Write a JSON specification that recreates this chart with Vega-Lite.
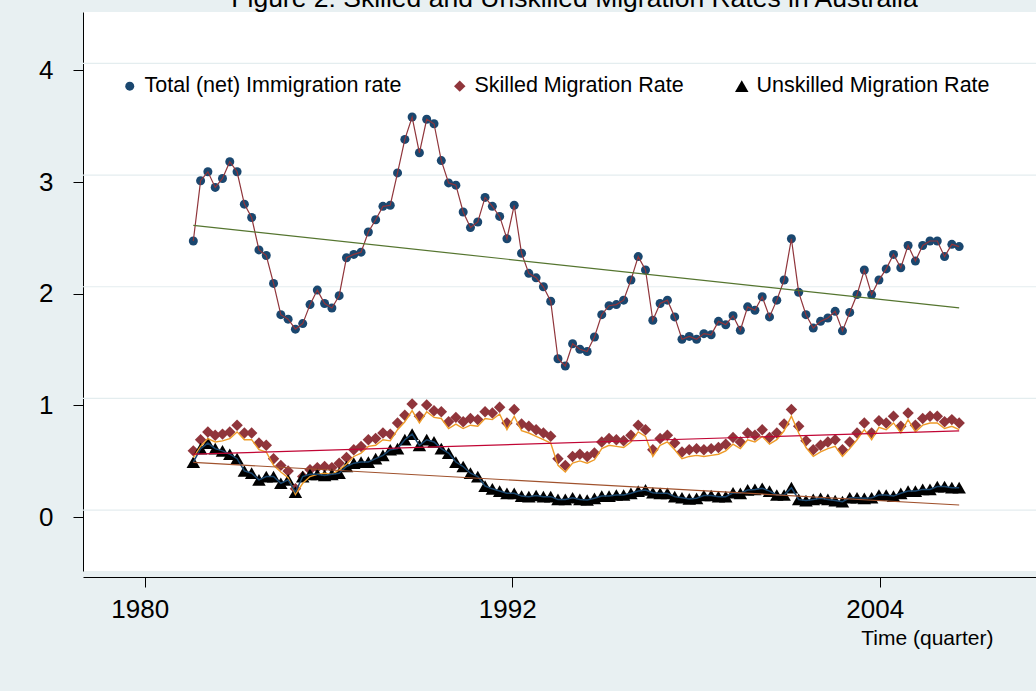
{
  "$schema": "https://vega.github.io/schema/vega-lite/v6.json",
  "autosize": "none",
  "width": 953,
  "height": 559,
  "padding": {"left": 83, "top": 12, "right": 0, "bottom": 120},
  "background": "#e8f0f2",
  "config": {
    "font": "Liberation Sans",
    "view": {"fill": "white", "stroke": null}
  },
  "title": {
    "text": "Figure 2: Skilled and Unskilled Migration Rates in Australia",
    "fontSize": 26.5,
    "font": "Liberation Sans",
    "fontWeight": "normal",
    "color": "black",
    "anchor": "middle",
    "dx": 15,
    "offset": 0
  },
  "datasets": {
    "main": [
      {"t":1981.587,"tot":2.41,"sk":0.53,"skf":0.47,"un":0.43},
      {"t":1981.825,"tot":2.95,"sk":0.63,"skf":0.57,"un":0.55},
      {"t":1982.063,"tot":3.03,"sk":0.70,"skf":0.64,"un":0.60},
      {"t":1982.302,"tot":2.89,"sk":0.67,"skf":0.61,"un":0.55},
      {"t":1982.540,"tot":2.97,"sk":0.68,"skf":0.62,"un":0.53},
      {"t":1982.778,"tot":3.12,"sk":0.70,"skf":0.64,"un":0.50},
      {"t":1983.016,"tot":3.03,"sk":0.76,"skf":0.70,"un":0.46},
      {"t":1983.254,"tot":2.74,"sk":0.69,"skf":0.63,"un":0.35},
      {"t":1983.492,"tot":2.62,"sk":0.69,"skf":0.63,"un":0.33},
      {"t":1983.731,"tot":2.33,"sk":0.60,"skf":0.54,"un":0.27},
      {"t":1983.969,"tot":2.28,"sk":0.58,"skf":0.52,"un":0.30},
      {"t":1984.207,"tot":2.03,"sk":0.46,"skf":0.40,"un":0.30},
      {"t":1984.445,"tot":1.75,"sk":0.40,"skf":0.34,"un":0.24},
      {"t":1984.683,"tot":1.71,"sk":0.35,"skf":0.29,"un":0.27},
      {"t":1984.921,"tot":1.62,"sk":0.19,"skf":0.14,"un":0.16},
      {"t":1985.160,"tot":1.67,"sk":0.30,"skf":0.24,"un":0.30},
      {"t":1985.398,"tot":1.84,"sk":0.36,"skf":0.30,"un":0.32},
      {"t":1985.636,"tot":1.97,"sk":0.38,"skf":0.32,"un":0.32},
      {"t":1985.874,"tot":1.85,"sk":0.39,"skf":0.33,"un":0.31},
      {"t":1986.112,"tot":1.81,"sk":0.38,"skf":0.32,"un":0.32},
      {"t":1986.350,"tot":1.92,"sk":0.42,"skf":0.36,"un":0.33},
      {"t":1986.589,"tot":2.26,"sk":0.47,"skf":0.41,"un":0.39},
      {"t":1986.827,"tot":2.29,"sk":0.54,"skf":0.48,"un":0.42},
      {"t":1987.065,"tot":2.31,"sk":0.57,"skf":0.51,"un":0.43},
      {"t":1987.303,"tot":2.49,"sk":0.63,"skf":0.57,"un":0.43},
      {"t":1987.541,"tot":2.60,"sk":0.64,"skf":0.58,"un":0.46},
      {"t":1987.779,"tot":2.72,"sk":0.69,"skf":0.63,"un":0.49},
      {"t":1988.018,"tot":2.73,"sk":0.68,"skf":0.62,"un":0.54},
      {"t":1988.256,"tot":3.02,"sk":0.78,"skf":0.72,"un":0.55},
      {"t":1988.494,"tot":3.32,"sk":0.85,"skf":0.79,"un":0.63},
      {"t":1988.732,"tot":3.52,"sk":0.95,"skf":0.89,"un":0.68},
      {"t":1988.970,"tot":3.20,"sk":0.84,"skf":0.78,"un":0.58},
      {"t":1989.208,"tot":3.50,"sk":0.94,"skf":0.88,"un":0.63},
      {"t":1989.447,"tot":3.46,"sk":0.89,"skf":0.83,"un":0.61},
      {"t":1989.685,"tot":3.13,"sk":0.88,"skf":0.82,"un":0.55},
      {"t":1989.923,"tot":2.93,"sk":0.79,"skf":0.73,"un":0.51},
      {"t":1990.161,"tot":2.91,"sk":0.83,"skf":0.77,"un":0.43},
      {"t":1990.399,"tot":2.67,"sk":0.79,"skf":0.73,"un":0.39},
      {"t":1990.637,"tot":2.53,"sk":0.82,"skf":0.76,"un":0.33},
      {"t":1990.876,"tot":2.58,"sk":0.81,"skf":0.75,"un":0.30},
      {"t":1991.114,"tot":2.80,"sk":0.88,"skf":0.82,"un":0.215},
      {"t":1991.352,"tot":2.72,"sk":0.87,"skf":0.81,"un":0.19},
      {"t":1991.590,"tot":2.63,"sk":0.92,"skf":0.86,"un":0.17},
      {"t":1991.828,"tot":2.43,"sk":0.78,"skf":0.72,"un":0.15},
      {"t":1992.066,"tot":2.73,"sk":0.90,"skf":0.84,"un":0.15},
      {"t":1992.305,"tot":2.30,"sk":0.77,"skf":0.71,"un":0.125},
      {"t":1992.543,"tot":2.12,"sk":0.75,"skf":0.69,"un":0.12},
      {"t":1992.781,"tot":2.08,"sk":0.72,"skf":0.66,"un":0.13},
      {"t":1993.019,"tot":2.00,"sk":0.69,"skf":0.63,"un":0.12},
      {"t":1993.257,"tot":1.87,"sk":0.66,"skf":0.60,"un":0.12},
      {"t":1993.495,"tot":1.355,"sk":0.46,"skf":0.40,"un":0.095},
      {"t":1993.734,"tot":1.29,"sk":0.40,"skf":0.34,"un":0.095},
      {"t":1993.972,"tot":1.49,"sk":0.48,"skf":0.42,"un":0.11},
      {"t":1994.210,"tot":1.44,"sk":0.50,"skf":0.44,"un":0.095},
      {"t":1994.448,"tot":1.42,"sk":0.48,"skf":0.42,"un":0.09},
      {"t":1994.686,"tot":1.55,"sk":0.51,"skf":0.45,"un":0.105},
      {"t":1994.924,"tot":1.75,"sk":0.61,"skf":0.55,"un":0.125},
      {"t":1995.163,"tot":1.83,"sk":0.64,"skf":0.58,"un":0.125},
      {"t":1995.401,"tot":1.84,"sk":0.63,"skf":0.57,"un":0.135},
      {"t":1995.639,"tot":1.88,"sk":0.62,"skf":0.56,"un":0.135},
      {"t":1995.877,"tot":2.06,"sk":0.67,"skf":0.61,"un":0.15},
      {"t":1996.115,"tot":2.27,"sk":0.76,"skf":0.70,"un":0.17},
      {"t":1996.353,"tot":2.15,"sk":0.72,"skf":0.66,"un":0.18},
      {"t":1996.592,"tot":1.70,"sk":0.54,"skf":0.48,"un":0.155},
      {"t":1996.830,"tot":1.85,"sk":0.64,"skf":0.58,"un":0.15},
      {"t":1997.068,"tot":1.88,"sk":0.67,"skf":0.61,"un":0.15},
      {"t":1997.306,"tot":1.73,"sk":0.60,"skf":0.54,"un":0.12},
      {"t":1997.544,"tot":1.53,"sk":0.52,"skf":0.46,"un":0.11},
      {"t":1997.782,"tot":1.555,"sk":0.54,"skf":0.48,"un":0.10},
      {"t":1998.021,"tot":1.53,"sk":0.55,"skf":0.49,"un":0.105},
      {"t":1998.259,"tot":1.58,"sk":0.54,"skf":0.48,"un":0.13},
      {"t":1998.497,"tot":1.57,"sk":0.55,"skf":0.49,"un":0.13},
      {"t":1998.735,"tot":1.69,"sk":0.56,"skf":0.50,"un":0.12},
      {"t":1998.973,"tot":1.66,"sk":0.59,"skf":0.53,"un":0.12},
      {"t":1999.211,"tot":1.74,"sk":0.65,"skf":0.59,"un":0.155},
      {"t":1999.450,"tot":1.61,"sk":0.61,"skf":0.55,"un":0.15},
      {"t":1999.688,"tot":1.82,"sk":0.69,"skf":0.63,"un":0.18},
      {"t":1999.926,"tot":1.79,"sk":0.67,"skf":0.61,"un":0.185},
      {"t":2000.164,"tot":1.91,"sk":0.72,"skf":0.66,"un":0.195},
      {"t":2000.402,"tot":1.73,"sk":0.65,"skf":0.59,"un":0.17},
      {"t":2000.640,"tot":1.88,"sk":0.69,"skf":0.63,"un":0.135},
      {"t":2000.879,"tot":2.06,"sk":0.77,"skf":0.71,"un":0.135},
      {"t":2001.117,"tot":2.43,"sk":0.90,"skf":0.84,"un":0.20},
      {"t":2001.355,"tot":1.95,"sk":0.75,"skf":0.69,"un":0.095},
      {"t":2001.593,"tot":1.75,"sk":0.62,"skf":0.56,"un":0.085},
      {"t":2001.831,"tot":1.63,"sk":0.54,"skf":0.48,"un":0.095},
      {"t":2002.069,"tot":1.69,"sk":0.58,"skf":0.52,"un":0.105},
      {"t":2002.308,"tot":1.72,"sk":0.61,"skf":0.55,"un":0.095},
      {"t":2002.546,"tot":1.78,"sk":0.63,"skf":0.57,"un":0.085},
      {"t":2002.784,"tot":1.605,"sk":0.54,"skf":0.48,"un":0.075},
      {"t":2003.022,"tot":1.77,"sk":0.61,"skf":0.55,"un":0.11},
      {"t":2003.260,"tot":1.93,"sk":0.69,"skf":0.63,"un":0.11},
      {"t":2003.498,"tot":2.15,"sk":0.78,"skf":0.72,"un":0.105},
      {"t":2003.737,"tot":1.93,"sk":0.69,"skf":0.63,"un":0.11},
      {"t":2003.975,"tot":2.06,"sk":0.80,"skf":0.74,"un":0.135},
      {"t":2004.213,"tot":2.16,"sk":0.78,"skf":0.72,"un":0.135},
      {"t":2004.451,"tot":2.29,"sk":0.84,"skf":0.78,"un":0.125},
      {"t":2004.689,"tot":2.17,"sk":0.75,"skf":0.69,"un":0.15},
      {"t":2004.927,"tot":2.37,"sk":0.87,"skf":0.81,"un":0.17},
      {"t":2005.166,"tot":2.23,"sk":0.76,"skf":0.70,"un":0.17},
      {"t":2005.404,"tot":2.37,"sk":0.82,"skf":0.76,"un":0.185},
      {"t":2005.642,"tot":2.41,"sk":0.84,"skf":0.78,"un":0.185},
      {"t":2005.880,"tot":2.41,"sk":0.84,"skf":0.78,"un":0.21},
      {"t":2006.118,"tot":2.27,"sk":0.79,"skf":0.73,"un":0.21},
      {"t":2006.356,"tot":2.38,"sk":0.81,"skf":0.75,"un":0.20},
      {"t":2006.595,"tot":2.36,"sk":0.78,"skf":0.72,"un":0.20}
    ],
    "trend": [
      {"t":1981.587,"gtr":2.55,"str":0.50,"utr":0.427},
      {"t":2006.595,"gtr":1.81,"str":0.71,"utr":0.045}
    ],
    "grid": [{"g":0},{"g":1},{"g":2},{"g":3},{"g":4}]
  },
  "encoding": {
    "x": {
      "field": "t", "type": "quantitative",
      "scale": {"domain": [1977.985, 2009.104], "nice": false, "zero": false},
      "axis": {
        "values": [1980, 1992, 2004],
        "format": "d",
        "grid": false,
        "offset": 6,
        "tickSize": 10,
        "tickColor": "black",
        "domainColor": "black",
        "labelColor": "black",
        "labelFontSize": 26,
        "labelFont": "Liberation Sans",
        "labelOffset": -5,
        "labelPadding": 9,
        "title": "Time (quarter)",
        "titleFont": "Liberation Sans",
        "titleFontSize": 21,
        "titleFontWeight": "normal",
        "titleColor": "black",
        "titleX": 910,
        "titleY": 61,
        "titleAlign": "right",
        "titleBaseline": "middle"
      }
    }
  },
  "layer": [
    {
      "data": {"name": "grid"},
      "mark": {"type": "rule", "color": "#e4edef", "strokeWidth": 1.2},
      "encoding": {
        "x": null,
        "y": {
          "field": "g", "type": "quantitative",
          "scale": {"domain": [-0.546, 4.461], "nice": false, "zero": false},
          "axis": {
            "values": [0, 1, 2, 3, 4],
            "format": "d",
            "grid": false,
            "tickOffset": 7,
            "tickSize": 10,
            "tickColor": "black",
            "domainColor": "black",
            "labelColor": "black",
            "labelFontSize": 26,
            "labelFont": "Liberation Sans",
            "labelPadding": 20,
            "title": null
          }
        }
      }
    },
    {
      "data": {"name": "main"},
      "transform": [{"fold": ["tot", "sk", "un"], "as": ["series", "value"]}],
      "mark": {"type": "point", "filled": true, "opacity": 1, "strokeWidth": 0},
      "encoding": {
        "y": {"field": "value", "type": "quantitative"},
        "color": {
          "field": "series", "type": "nominal",
          "scale": {"domain": ["tot", "sk", "un"], "range": ["#1a476f", "#90353b", "#000000"]},
          "legend": {
            "orient": "none",
            "legendX": 36,
            "legendY": 63,
            "direction": "horizontal",
            "columns": 3,
            "columnPadding": 47,
            "padding": 0,
            "title": null,
            "labelFontSize": 21.5,
            "labelFont": "Liberation Sans",
            "labelColor": "black",
            "labelOffset": 4,
            "labelLimit": 400,
            "labelExpr": "datum.value == 'tot' ? 'Total (net) Immigration rate' : datum.value == 'sk' ? 'Skilled Migration Rate' : 'Unskilled Migration Rate'"
          }
        },
        "shape": {
          "field": "series", "type": "nominal",
          "scale": {"domain": ["tot", "sk", "un"], "range": ["circle", "diamond", "triangle-up"]}
        },
        "size": {
          "field": "series", "type": "nominal",
          "scale": {"domain": ["tot", "sk", "un"], "range": [81, 182, 90]}
        }
      }
    },
    {
      "data": {"name": "main"},
      "mark": {"type": "line", "color": "#90353b", "strokeWidth": 1.2},
      "encoding": {"y": {"field": "tot", "type": "quantitative"}}
    },
    {
      "data": {"name": "main"},
      "mark": {"type": "line", "color": "#ee9b28", "strokeWidth": 1.4},
      "encoding": {"y": {"field": "skf", "type": "quantitative"}}
    },
    {
      "data": {"name": "main"},
      "mark": {"type": "line", "color": "#1a476f", "strokeWidth": 1.5},
      "encoding": {"y": {"field": "un", "type": "quantitative"}}
    },
    {
      "data": {"name": "trend"},
      "mark": {"type": "line", "color": "#55752f", "strokeWidth": 1.2},
      "encoding": {"y": {"field": "gtr", "type": "quantitative"}}
    },
    {
      "data": {"name": "trend"},
      "mark": {"type": "line", "color": "#c10534", "strokeWidth": 1.2},
      "encoding": {"y": {"field": "str", "type": "quantitative"}}
    },
    {
      "data": {"name": "trend"},
      "mark": {"type": "line", "color": "#a0522d", "strokeWidth": 1.2},
      "encoding": {"y": {"field": "utr", "type": "quantitative"}}
    }
  ]
}
